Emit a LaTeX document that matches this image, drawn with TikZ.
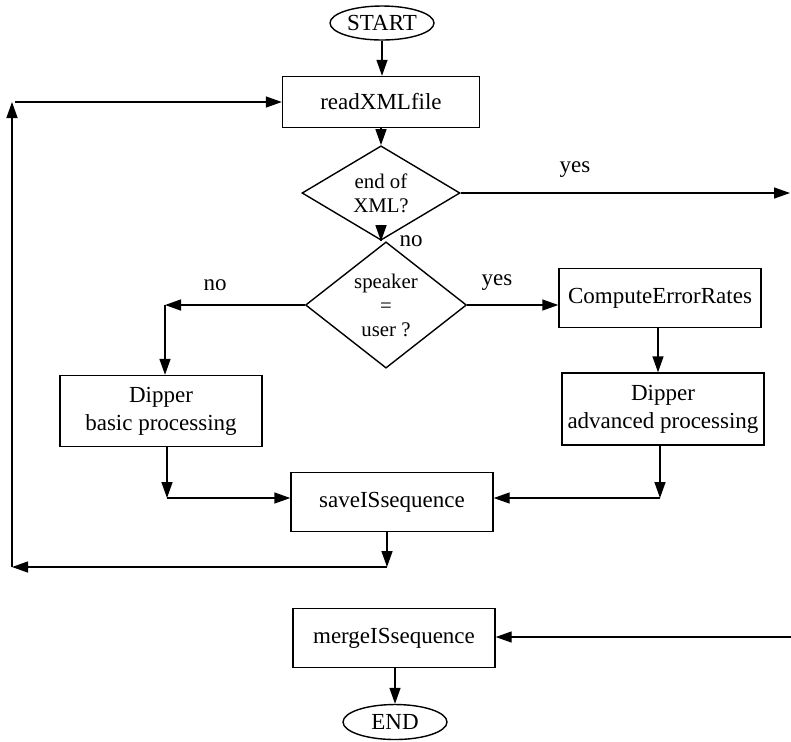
\documentclass[tikz,border=0pt]{standalone}
\usepackage{fontspec}
\setmainfont{Liberation Serif}
\usetikzlibrary{shapes.geometric,arrows.meta}
\begin{document}
\begin{tikzpicture}[x=0.5pt,y=-0.5pt,line width=0.7pt,
  >={Triangle[length=8pt,width=5.5pt]},
  procbox/.style={draw, rectangle, inner sep=0pt, align=center, minimum width=101pt,
    font=\fontsize{11.5}{14}\selectfont},
  termbox/.style={draw, ellipse, inner sep=0pt, minimum width=52pt, minimum height=17pt,
    font=\fontsize{11.5}{14}\selectfont},
  testbox/.style={draw, diamond, inner sep=0pt, align=center,
    font=\fontsize{10.4}{12}\selectfont},
  lbl/.style={font=\fontsize{11.5}{14}\selectfont}]
\useasboundingbox (0,0) rectangle (791,741);
\node[termbox] (start) at (382,23) {START};
\node[procbox, minimum width=98.5pt, minimum height=25.5pt] (read) at (381,102) {readXMLfile};
\node[testbox, minimum width=79pt, minimum height=35pt] (eox) at (381,193) {end of\\XML?};
\node[testbox, minimum width=80.5pt, minimum height=52pt] (spk) at (386,305) {speaker\\=\\user ?};
\node[procbox, minimum height=29.5pt] (comp) at (660,298) {ComputeErrorRates};
\node[procbox, minimum height=36pt] (adv) at (663,409) {Dipper\\advanced processing};
\node[procbox, minimum height=35.5pt] (basic) at (161,411) {Dipper\\basic processing};
\node[procbox, minimum height=29.5pt] (save) at (392,502) {saveISsequence};
\node[procbox, minimum height=29.5pt] (merge) at (394,638) {mergeISsequence};
\node[termbox, minimum height=17.5pt] (end) at (395,722) {END};
% free ends of the connectors
\coordinate (yesout) at (790,193);
\coordinate (nol) at (165,305);
\coordinate (advd) at (660,498);
\coordinate (basd) at (167,498);
\coordinate (back) at (387,567);
\coordinate (loopl) at (12,567);
\coordinate (loopt) at (12,102);
\coordinate (loopr) at (15,102);
\coordinate (mergein) at (791,637);
% labels
\node[lbl] (yes1) at (575,170) {yes};
\node[lbl] (no1) at (411,241) {no};
\node[lbl] (yes2) at (497,283) {yes};
\node[lbl] (no2) at (215,285) {no};
% connectors
\draw[->] (start.south) -- (start.south |- read.north);
\draw[->] (read.south -| eox.north) -- (eox.north);
\draw[->] (eox.east) -- (yesout);
\draw[->] (eox.south) -- (eox.south |- spk.north);
\draw[->] (spk.east) -- (spk.east -| comp.west);
\draw[->] (spk.west) -- (nol);
\draw[->] (nol) -- (nol |- basic.north);
\draw[->] (comp.south -| 658,0) -- (adv.north -| 658,0);
\draw[->] (adv.south -| advd) -- (advd);
\draw[->] (advd) -- (advd -| save.east);
\draw[->] (basic.south -| basd) -- (basd);
\draw[->] (basd) -- (basd -| save.west);
\draw[->] (save.south -| back) -- (back);
\draw[->] (back) -- (loopl);
\draw[->] (loopl) -- (loopt);
\draw[->] (loopr) -- (read.west);
\draw[->] (mergein) -- (mergein -| merge.east);
\draw[->] (merge.south -| end.north) -- (end.north);
\end{tikzpicture}
\end{document}
